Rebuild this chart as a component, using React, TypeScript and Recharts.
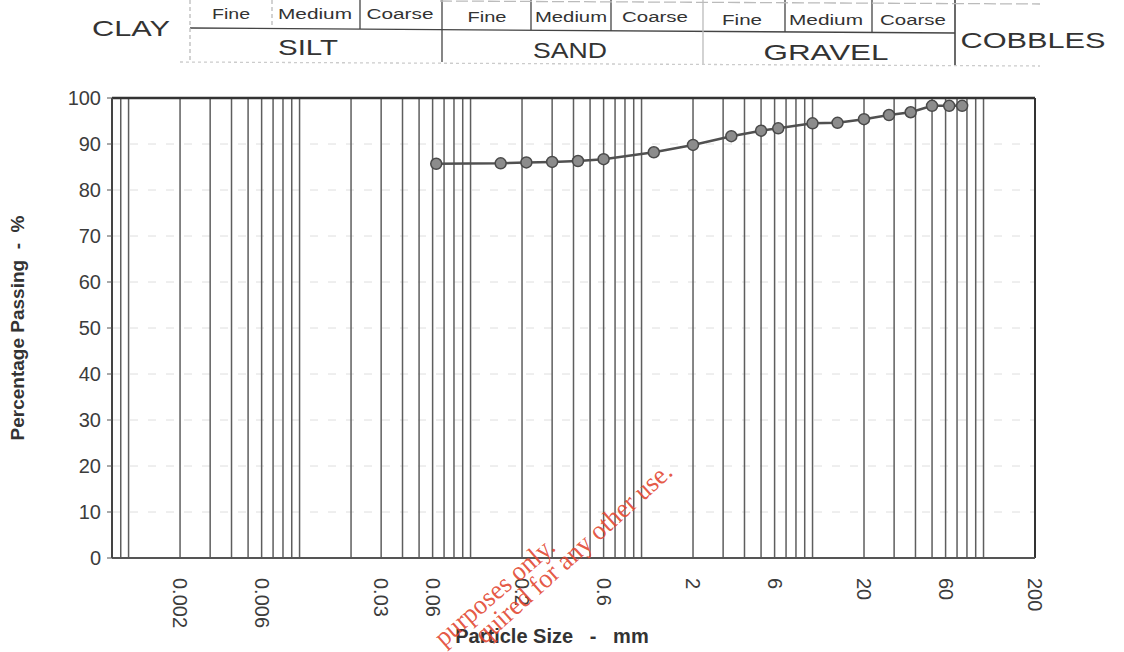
import { LineChart, Line, XAxis, YAxis, CartesianGrid, ReferenceLine } from 'recharts';

// sieve sizes (mm) and % passing
const sieveSizes = [0.063, 0.15, 0.212, 0.3, 0.425, 0.6, 1.18, 2, 3.35, 5, 6.3, 10, 14, 20, 28, 37.5, 50, 63, 75];
const percentPassing = [85.7, 85.8, 86.0, 86.1, 86.3, 86.7, 88.2, 89.8, 91.7, 92.9, 93.4, 94.5, 94.6, 95.4, 96.3, 96.9, 98.3, 98.3, 98.3];

const xTicks = [0.002, 0.006, 0.03, 0.06, 0.2, 0.6, 2, 6, 20, 60, 200];
const yTicks = [0, 10, 20, 30, 40, 50, 60, 70, 80, 90, 100];

// log-paper vertical rules
const gridSizes = [
  0.0009,
  0.001, 0.002, 0.003, 0.004, 0.005, 0.006, 0.007, 0.008, 0.009,
  0.01, 0.02, 0.03, 0.04, 0.05, 0.06, 0.07, 0.08, 0.09,
  0.1, 0.2, 0.3, 0.4, 0.5, 0.6, 0.7, 0.8, 0.9,
  1, 2, 3, 4, 5, 6, 7, 8, 9,
  10, 20, 30, 40, 50, 60, 70, 80, 90,
  100,
];

const subLabels = ['Fine', 'Medium', 'Coarse', 'Fine', 'Medium', 'Coarse', 'Fine', 'Medium', 'Coarse'];
const mainLabels = ['CLAY', 'SILT', 'SAND', 'GRAVEL', 'COBBLES'];

const FONT = '"Liberation Sans", Arial, Helvetica, sans-serif';

const rows = sieveSizes.map((size, i) => ({ size, passing: percentPassing[i] }));

const SizeTick = ({ x, payload }: any) => (
  <text
    x={x}
    y={578}
    transform={`rotate(90 ${x} 578)`}
    textAnchor="start"
    dominantBaseline="central"
    fontSize={20}
    fill="#3c3c3c"
    fontFamily={FONT}
  >
    {payload.value}
  </text>
);

const YTitle = () => (
  <text
    x={17}
    y={328}
    transform="rotate(-90 17 328)"
    textAnchor="middle"
    dominantBaseline="central"
    fontSize={19}
    fontWeight="bold"
    fill="#333"
    fontFamily={FONT}
    style={{ whiteSpace: 'pre' }}
  >
    {'Percentage Passing  -  %'}
  </text>
);

const XTitle = () => (
  <text x={552} y={643} textAnchor="middle" fontSize={20} fontWeight="bold" fill="#333" fontFamily={FONT}
    style={{ whiteSpace: 'pre' }}>
    {'Particle Size   -   mm'}
  </text>
);

function Header() {
  const subX = [231, 315, 400, 487, 571, 655, 742, 826, 913];
  const subW = [38, 74, 67, 39, 72, 66, 40, 74, 66];
  const subY = [19, 19, 19, 22, 22, 22, 25, 25, 25];
  const mainX = [131, 308, 570, 826, 1033];
  const mainW = [78, 60, 74, 125, 145];
  const mainY = [36, 55, 58, 60, 48];
  return (
    <svg width={1124} height={652} style={{ position: 'absolute', left: 0, top: 0, pointerEvents: 'none' }}>
      <g stroke="#444" strokeWidth={1.3}>
        <line x1={190} y1={28} x2={955} y2={33} />
        <line x1={190} y1={0} x2={190} y2={60} stroke="#bbb" strokeDasharray="4 3" />
        <line x1={272} y1={0} x2={272} y2={28} stroke="#bbb" strokeDasharray="4 3" />
        <line x1={360} y1={0} x2={360} y2={29} />
        <line x1={442} y1={0} x2={442} y2={62} />
        <line x1={531} y1={0} x2={531} y2={30} />
        <line x1={611} y1={0} x2={611} y2={31} />
        <line x1={703} y1={0} x2={703} y2={64} stroke="#bbb" />
        <line x1={785} y1={0} x2={785} y2={32} />
        <line x1={872} y1={0} x2={872} y2={32} />
        <line x1={955} y1={0} x2={955} y2={66} strokeWidth={1.6} />
        <line x1={180} y1={62} x2={1040} y2={66} stroke="#ccc" strokeDasharray="3 3" />
        <line x1={440} y1={1} x2={1040} y2={4} stroke="#bbb" strokeDasharray="12 4" />
      </g>
      {subLabels.map((t, i) => (
        <text key={'s' + i} x={subX[i]} y={subY[i]} textAnchor="middle" fontSize={14} fill="#333"
          fontFamily={FONT} textLength={subW[i]} lengthAdjust="spacingAndGlyphs">
          {t}
        </text>
      ))}
      {mainLabels.map((t, i) => (
        <text key={'m' + i} x={mainX[i]} y={mainY[i]} textAnchor="middle" fontSize={22} fill="#333"
          fontFamily={FONT} textLength={mainW[i]} lengthAdjust="spacingAndGlyphs">
          {t}
        </text>
      ))}
      <g fill="#e2452f" fontFamily='"Liberation Serif", "Times New Roman", serif' fontSize={27} fillOpacity={0.9}>
        <text x={557} y={549} textAnchor="end" transform="rotate(-41 557 549)" textLength={150}
          lengthAdjust="spacingAndGlyphs">purposes only.</text>
        <text x={674} y={474} textAnchor="end" transform="rotate(-42 674 474)" textLength={255}
          lengthAdjust="spacingAndGlyphs">quired for any other use.</text>
      </g>
    </svg>
  );
}

export default function App() {
  return (
    <div style={{ position: 'absolute', left: 0, top: 0, width: 1124, height: 652, background: '#fff' }}>
      <LineChart width={1124} height={652} data={rows} margin={{ top: 98, right: 89, bottom: 34, left: 52 }}>
        <CartesianGrid vertical={false} stroke="#dedede" strokeDasharray="8 10" />
        {gridSizes.map((g) => (
          <ReferenceLine key={g} x={g} stroke="#5e5e5e" strokeWidth={1.5} ifOverflow="extendDomain" />
        ))}
        <ReferenceLine y={100} stroke="#333" strokeWidth={2.5} />
        <ReferenceLine x={200} stroke="#333" strokeWidth={2} />
        <XAxis
          dataKey="size"
          type="number"
          scale="log"
          domain={[0.0008, 200]}
          allowDataOverflow
          ticks={xTicks}
          interval={0}
          tick={<SizeTick />}
          tickLine={false}
          axisLine={{ stroke: '#555', strokeWidth: 2 }}
          height={60}
          label={<XTitle />}
        />
        <YAxis
          type="number"
          domain={[0, 100]}
          ticks={yTicks}
          interval={0}
          width={60}
          tickSize={5}
          tickMargin={6}
          tickLine={{ stroke: '#555' }}
          axisLine={{ stroke: '#444', strokeWidth: 2 }}
          tick={{ fontSize: 20, fill: '#3c3c3c', fontFamily: FONT }}
          label={<YTitle />}
        />
        <Line
          type="linear"
          dataKey="passing"
          stroke="#505050"
          strokeWidth={2.5}
          dot={{ r: 5.5, fill: '#8c8c8c', stroke: '#4a4a4a', strokeWidth: 1.5 }}
          isAnimationActive={false}
        />
      </LineChart>
      <Header />
    </div>
  );
}
